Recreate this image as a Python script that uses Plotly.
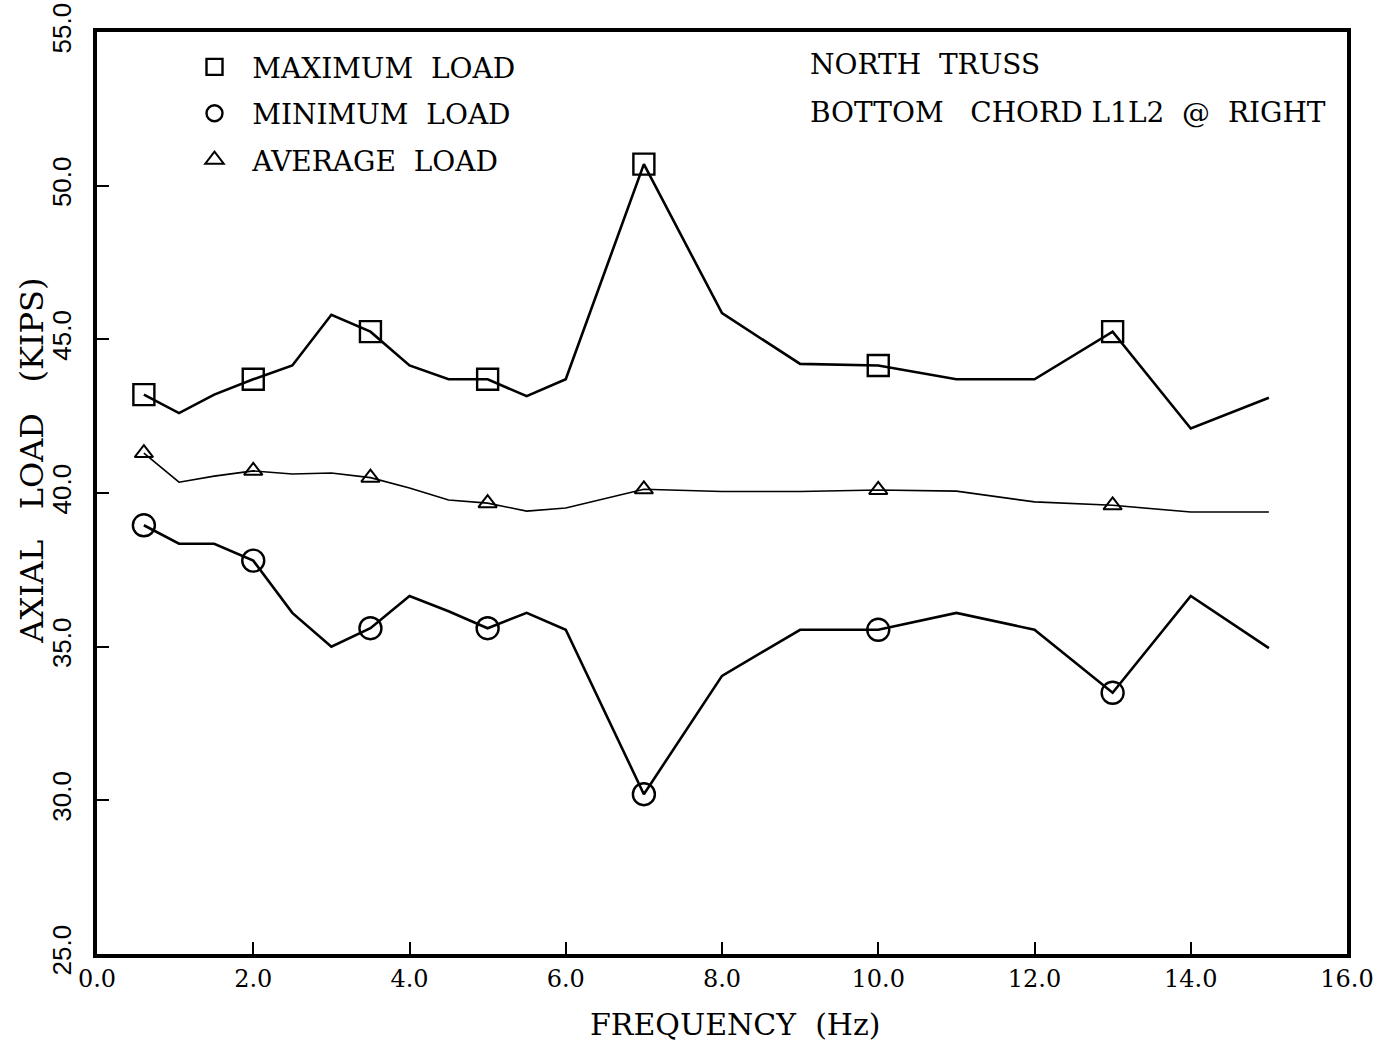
import plotly.graph_objects as go

NB = "\u00a0"

# ---- data ----
freq = [0.6, 1.05, 1.5, 2.0, 2.5, 3.0, 3.5, 4.0, 4.5, 5.0, 5.5, 6.0,
        7.0, 8.0, 9.0, 10.0, 11.0, 12.0, 13.0, 14.0, 15.0]
max_load = [43.2, 42.6, 43.2, 43.7, 44.15, 45.8, 45.25, 44.15, 43.7, 43.7, 43.15, 43.7,
            50.7, 45.85, 44.2, 44.15, 43.7, 43.7, 45.25, 42.1, 43.1]
min_load = [38.95, 38.35, 38.35, 37.8, 36.1, 35.0, 35.6, 36.65, 36.15, 35.6, 36.1, 35.55,
            30.2, 34.05, 35.55, 35.55, 36.1, 35.55, 33.5, 36.65, 34.95]
avg_load = [41.3, 40.35, 40.55, 40.72, 40.62, 40.65, 40.5, 40.16, 39.77, 39.67, 39.41, 39.51,
            40.12, 40.05, 40.05, 40.1, 40.06, 39.71, 39.6, 39.38, 39.38]
marker_freqs = [0.6, 2.0, 3.5, 5.0, 7.0, 10.0, 13.0]

x_ticks = [0, 2, 4, 6, 8, 10, 12, 14, 16]
x_ticktext = ["0.0", "2.0", "4.0", "6.0", "8.0", "10.0", "12.0", "14.0", "16.0"]
y_ticks = [25, 30, 35, 40, 45, 50, 55]
y_ticktext = ["25.0", "30.0", "35.0", "40.0", "45.0", "50.0", "55.0"]

names = [NB * 2 + "MAXIMUM" + NB * 2 + "LOAD",
         NB * 2 + "MINIMUM" + NB * 2 + "LOAD",
         NB * 2 + "AVERAGE" + NB * 2 + "LOAD"]

SERIF = "DejaVu Serif"

fig = go.Figure()
series = [
    (names[0], max_load, "square-open", 21, 2.6, 2.4),
    (names[1], min_load, "circle-open", 22, 2.6, 2.4),
    (names[2], avg_load, "triangle-up-open", 16, 1.6, 2.0),
]
for name, ys, sym, msize, lw, mlw in series:
    fig.add_trace(go.Scatter(
        x=freq, y=ys, mode="lines",
        line=dict(color="black", width=lw),
        showlegend=False, hoverinfo="skip"))
    mx = [f for f in freq if f in marker_freqs]
    my = [y for f, y in zip(freq, ys) if f in marker_freqs]
    fig.add_trace(go.Scatter(
        x=mx, y=my, mode="markers", name=name, legendgroup=name,
        marker=dict(symbol=sym, size=msize, color="black",
                    line=dict(color="black", width=mlw))))

fig.update_xaxes(
    range=[0, 16], tickmode="array", tickvals=x_ticks, ticktext=x_ticktext,
    ticks="inside", ticklen=12, tickwidth=2, tickcolor="black",
    showline=True, linewidth=4, linecolor="black", mirror=True,
    showgrid=False, zeroline=False, automargin=False,
    tickfont=dict(family=SERIF, size=24, color="black"))
fig.update_yaxes(
    range=[25, 55], tickmode="array", tickvals=y_ticks, ticktext=y_ticktext,
    ticks="inside", ticklen=12, tickwidth=2, tickcolor="black",
    showline=True, linewidth=4, linecolor="black", mirror=True,
    showgrid=False, zeroline=False, tickangle=-90, ticklabelstandoff=12,
    automargin=False,
    tickfont=dict(family="Liberation Sans", size=26, color="black"))

fig.update_layout(
    width=1380, height=1050,
    margin=dict(l=97, r=33, t=32, b=96, autoexpand=False),
    paper_bgcolor="white", plot_bgcolor="white",
    legend=dict(x=0.078, y=0.989, xanchor="left", yanchor="top",
                font=dict(family=SERIF, size=28, color="black"),
                bgcolor="rgba(0,0,0,0)", tracegroupgap=7),
    annotations=[
        dict(text="NORTH" + NB * 2 + "TRUSS", xref="paper", yref="paper",
             x=0.569, y=0.965, xanchor="left", yanchor="middle", showarrow=False,
             font=dict(family=SERIF, size=28, color="black")),
        dict(text="BOTTOM" + NB * 3 + "CHORD" + NB + "L1L2" + NB * 2 + "@" + NB * 2 + "RIGHT",
             xref="paper", yref="paper",
             x=0.569, y=0.913, xanchor="left", yanchor="middle", showarrow=False,
             font=dict(family=SERIF, size=28, color="black")),
        dict(text="FREQUENCY" + NB * 2 + "(Hz)", xref="paper", yref="paper",
             x=0.511, y=-0.077, xanchor="center", yanchor="middle", showarrow=False,
             font=dict(family=SERIF, size=30, color="black")),
        dict(text="AXIAL" + NB * 3 + "LOAD" + NB * 3 + "(KIPS)", xref="paper", yref="paper",
             x=-0.052, y=0.535, xanchor="center", yanchor="middle", showarrow=False,
             textangle=-90,
             font=dict(family=SERIF, size=32, color="black")),
    ],
)

fig.write_html(
    "out.html",
    config={"displayModeBar": False},
    post_script="document.body.style.margin='0';document.body.style.overflow='hidden';",
)
